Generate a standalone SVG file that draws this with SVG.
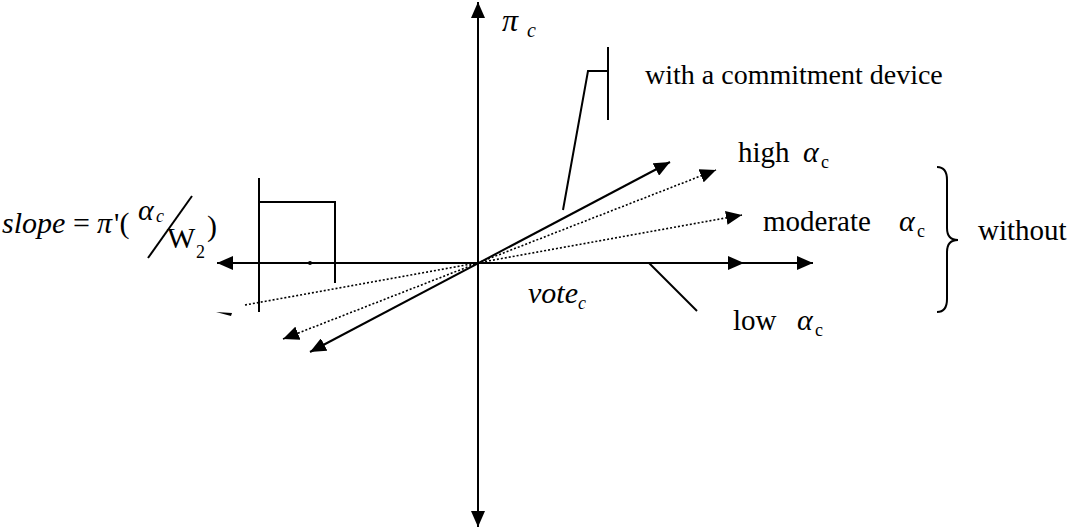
<svg xmlns="http://www.w3.org/2000/svg" width="1075" height="529" viewBox="0 0 1075 529">
<style>
.ln{stroke:#000;stroke-width:2;fill:none}
.dot{stroke:#000;stroke-width:1.6;fill:none;stroke-dasharray:2 2}
text{font-family:'Liberation Serif','Times New Roman','DejaVu Serif',serif;fill:#000}
.i{font-style:italic}
</style>
<defs>
<marker id="ah" viewBox="0 0 16 14" refX="16" refY="7" markerWidth="16" markerHeight="14" markerUnits="userSpaceOnUse" orient="auto-start-reverse">
<path d="M0,0 L16,7 L0,14 z" fill="#000"/>
</marker>
</defs>
<rect width="1075" height="529" fill="#fff"/>
<g id="connectors">
<line class="ln" x1="478" y1="2" x2="478" y2="527" marker-start="url(#ah)" marker-end="url(#ah)"/>
<line class="ln" x1="217" y1="263" x2="813" y2="263" marker-start="url(#ah)" marker-end="url(#ah)"/>
<line class="ln" x1="649" y1="263" x2="744" y2="263" marker-end="url(#ah)"/>
<line class="ln" x1="310" y1="352" x2="670" y2="162" marker-start="url(#ah)" marker-end="url(#ah)"/>
<line class="dot" x1="283" y1="339" x2="716" y2="170" marker-start="url(#ah)" marker-end="url(#ah)"/>
<line class="dot" x1="245" y1="305" x2="742" y2="215" marker-end="url(#ah)"/>
<polygon points="216,312 232,313 231,316" fill="#000"/>
<polyline class="ln" points="259,178 259,312"/>
<polyline class="ln" points="259,202 335,202 335,283"/>
<circle cx="310" cy="263" r="2" fill="#000"/>
<line class="ln" x1="608" y1="47" x2="608" y2="120"/>
<polyline class="ln" points="608,71 588,71 563,210"/>
<line class="ln" x1="649" y1="263" x2="697" y2="311"/>
<path class="ln" d="M937,167 Q947,167 947,180 L947,228 Q947,240 958,240 Q947,240 947,252 L947,299 Q947,312 937,312"/>
</g>
<g id="label-pi">
<text class="i" x="502" y="31" font-size="32">π</text>
<text class="i" x="527" y="37" font-size="20">c</text>
</g>
<g id="label-commit">
<text x="645" y="84" font-size="28">with a commitment device</text>
</g>
<g id="label-high">
<text x="738" y="162" font-size="29">high</text>
<text class="i" x="803" y="162" font-size="30">α</text>
<text x="821" y="168" font-size="18">c</text>
</g>
<g id="label-moderate">
<text x="763" y="231" font-size="29">moderate</text>
<text class="i" x="899" y="231" font-size="30">α</text>
<text x="917" y="237" font-size="18">c</text>
</g>
<g id="label-low">
<text x="733" y="330" font-size="29">low</text>
<text class="i" x="797" y="330" font-size="30">α</text>
<text x="815" y="336" font-size="18">c</text>
</g>
<g id="label-without">
<text x="978" y="240" font-size="29">without</text>
</g>
<g id="label-vote">
<text class="i" x="528" y="303" font-size="30">vote</text>
<text class="i" x="578" y="309" font-size="18">c</text>
</g>
<g id="label-slope">
<text class="i" x="2" y="233" font-size="30">slope</text>
<text x="73" y="233" font-size="30">=</text>
<text class="i" x="97" y="233" font-size="30">π</text>
<text x="114" y="233" font-size="30">'(</text>
<text class="i" x="138" y="220" font-size="30">α</text>
<text class="i" x="156" y="222" font-size="18">c</text>
<line class="ln" x1="148" y1="258" x2="192" y2="196"/>
<text x="167" y="248" font-size="30">W</text>
<text x="196" y="258" font-size="18">2</text>
<text x="207" y="236" font-size="30">)</text>
</g>
</svg>
